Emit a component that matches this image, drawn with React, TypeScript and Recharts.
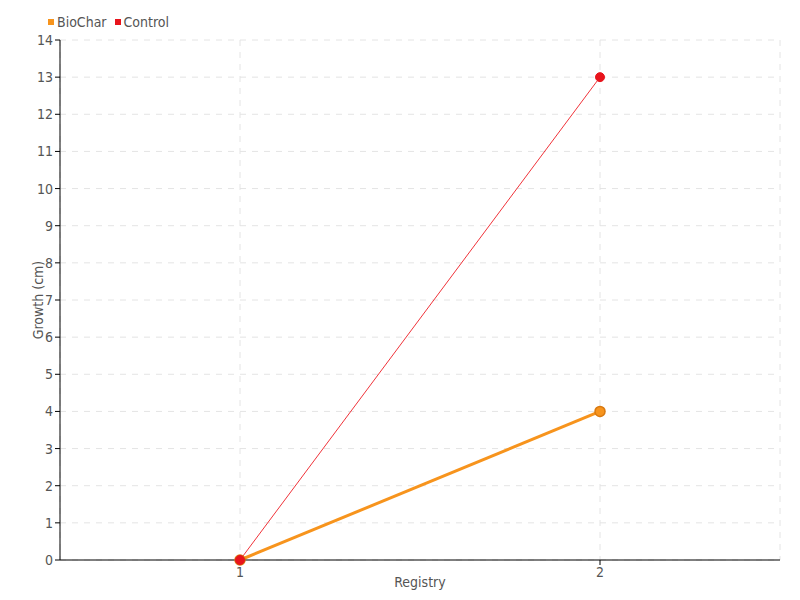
import { LineChart, Line, XAxis, YAxis, CartesianGrid, Legend } from 'recharts';

const registry = ['1', '2'];
const biochar = [0, 4];
const control = [0, 13];
const yTicks = [0, 1, 2, 3, 4, 5, 6, 7, 8, 9, 10, 11, 12, 13, 14];

const ORANGE = '#f7941d';
const RED = '#e8141c';
const FONT = '"Liberation Sans Narrow", "DejaVu Sans Condensed", sans-serif';

const data = registry.map((r, i) => ({ registry: r, BioChar: biochar[i], Control: control[i] }));

function LegendBox() {
  const items = [
    { name: 'BioChar', color: ORANGE },
    { name: 'Control', color: RED },
  ];
  return (
    <div style={{ display: 'flex', gap: 8, fontFamily: FONT, fontSize: 14, color: '#555', lineHeight: '20px' }}>
      {items.map((it) => (
        <span key={it.name} style={{ display: 'flex', alignItems: 'center' }}>
          <span style={{ width: 6, height: 6, background: it.color, marginRight: 3, display: 'inline-block' }} />
          {it.name}
        </span>
      ))}
    </div>
  );
}

export default function App() {
  return (
    <div style={{ width: 800, height: 600, background: '#fff' }}>
      <style>{'body{margin:0}'}</style>
      <LineChart width={800} height={600} data={data} margin={{ top: 20, right: 20, bottom: 0, left: 0 }}>
        <CartesianGrid stroke="#e4e4e4" strokeDasharray="6 6" />
        <XAxis
          dataKey="registry"
          padding={{ left: 180, right: 180 }}
          height={40}
          axisLine={{ stroke: '#000' }}
          tickLine={{ stroke: '#000' }}
          tick={{ fill: '#555', fontSize: 14, fontFamily: FONT }}
          tickSize={5}
          label={{ value: 'Registry', position: 'insideBottom', offset: 13, fill: '#555', fontSize: 14, fontFamily: FONT }}
        />
        <YAxis
          width={60}
          domain={[0, 14]}
          ticks={yTicks}
          interval={0}
          axisLine={{ stroke: '#000' }}
          tickLine={{ stroke: '#000' }}
          tickSize={5}
          tick={{ fill: '#555', fontSize: 14, fontFamily: FONT }}
          label={{ value: 'Growth (cm)', angle: -90, position: 'insideLeft', offset: 38, fill: '#555', fontSize: 14, fontFamily: FONT, style: { textAnchor: 'middle' } }}
        />
        <Legend
          verticalAlign="top"
          align="left"
          content={() => <LegendBox />}
          wrapperStyle={{ top: 12, left: 48, height: 20, width: 200 }}
        />
        <Line
          dataKey="BioChar"
          stroke={ORANGE}
          strokeWidth={3}
          dot={{ r: 5, fill: ORANGE, stroke: '#d9790f', strokeWidth: 1.5 }}
          isAnimationActive={false}
        />
        <Line
          dataKey="Control"
          stroke="#f0333a"
          strokeWidth={1}
          dot={{ r: 4.5, fill: RED, stroke: RED, strokeWidth: 1 }}
          isAnimationActive={false}
        />
      </LineChart>
    </div>
  );
}
